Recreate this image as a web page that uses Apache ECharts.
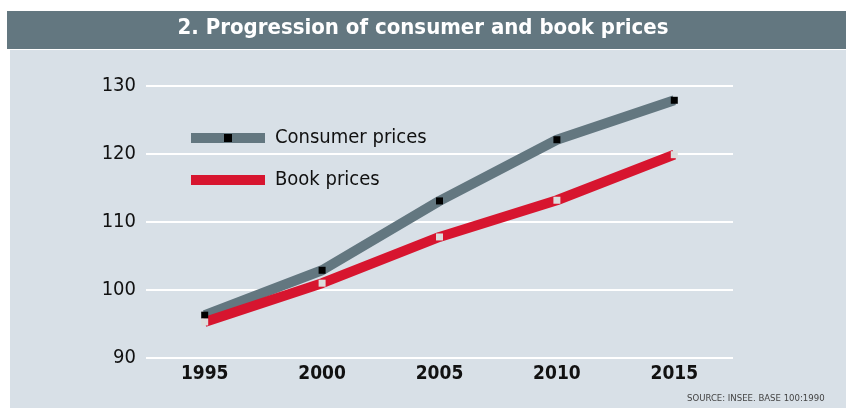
<!DOCTYPE html>
<html>
<head>
<meta charset="utf-8">
<script src="https://cdn.jsdelivr.net/npm/echarts@6/dist/echarts.min.js"></script>
<style>
  html, body { margin: 0; padding: 0; background: #fff; }
  #chart { width: 846px; height: 408px; }
</style>
</head>
<body>
<div id="chart"></div>
<script>
// data
const years = ["1995", "2000", "2005", "2010", "2015"];
const consumerPrices = [96.3, 102.9, 113.1, 122.1, 127.9];
const bookPrices = [95.3, 101.0, 107.8, 113.2, 119.9];
const yTicks = [90, 100, 110, 120, 130];

const FONT = '"DejaVu Sans Condensed", "Liberation Sans Narrow", sans-serif';
const GREY = "#637780";
const RED = "#d7152f";

const chart = echarts.init(document.getElementById("chart"));

chart.setOption({
  animation: false,
  textStyle: { fontFamily: FONT },
  graphic: [
    // title bar
    { type: "rect", shape: { x: 7, y: 11, width: 839, height: 38 }, style: { fill: GREY }, z: -10 },
    // light panel
    { type: "rect", shape: { x: 10, y: 50, width: 836, height: 358 }, style: { fill: "#d8e0e7" }, z: -10 },
    {
      type: "text", left: "center", top: 17,
      style: { text: "2. Progression of consumer and book prices", fill: "#fff", font: "bold 22px " + FONT }
    },
    {
      type: "text", left: 687, top: 394,
      style: { text: "SOURCE: INSEE. BASE 100:1990", fill: "#444", font: "9.5px " + FONT }
    }
  ],
  legend: {
    orient: "vertical",
    left: 181,
    top: 123,
    itemWidth: 74,
    itemHeight: 10,
    itemGap: 22,
    textStyle: { fontFamily: FONT, fontSize: 20, color: "#111", padding: [0, 0, 0, 5] },
    data: [
      { name: "Consumer prices", lineStyle: { width: 10, color: GREY } },
      { name: "Book prices", lineStyle: { width: 10, color: RED }, itemStyle: { color: RED } }
    ]
  },
  grid: { left: 146, right: 113, top: 86, bottom: 50 },
  xAxis: {
    type: "category",
    data: years,
    boundaryGap: true,
    axisLine: { show: false },
    axisTick: { show: false },
    axisLabel: { fontFamily: FONT, fontSize: 19, fontWeight: "bold", color: "#111", margin: 7 }
  },
  yAxis: {
    type: "value",
    min: yTicks[0],
    max: yTicks[yTicks.length - 1],
    interval: 10,
    axisLine: { show: false },
    axisTick: { show: false },
    axisLabel: { fontFamily: FONT, fontSize: 20, color: "#111", margin: 10 },
    splitLine: { lineStyle: { color: "#fff", width: 2 } }
  },
  series: [
    {
      name: "Consumer prices",
      type: "line",
      data: consumerPrices,
      symbol: "rect",
      symbolSize: 7,
      lineStyle: { color: GREY, width: 10 },
      itemStyle: { color: "#000" }
    },
    {
      name: "Book prices",
      type: "line",
      data: bookPrices,
      symbol: "rect",
      symbolSize: 7,
      lineStyle: { color: RED, width: 10 },
      itemStyle: { color: "#dcdcdc" }
    }
  ]
});

window.addEventListener("resize", function () {
  chart.resize();
});
</script>
</body>
</html>
